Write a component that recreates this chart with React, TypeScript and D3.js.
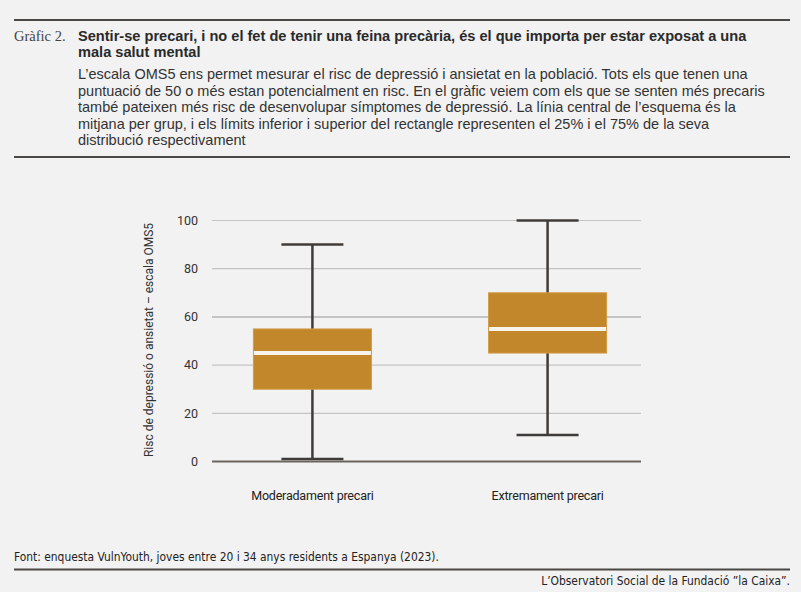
import React from 'react';
import * as d3 from 'd3';

// dades llegides del gràfic
const categories = ['Moderadament precari', 'Extremament precari'];
const minValues = [1, 11];
const q1Values = [30, 45];
const medianValues = [45, 55];
const q3Values = [55, 70];
const maxValues = [90, 100];
const yTicks = [0, 20, 40, 60, 80, 100];

const titleLines = [
  'Sentir-se precari, i no el fet de tenir una feina precària, és el que importa per estar exposat a una',
  'mala salut mental',
];
const bodyLines = [
  'L’escala OMS5 ens permet mesurar el risc de depressió i ansietat en la població. Tots els que tenen una',
  'puntuació de 50 o més estan potencialment en risc. En el gràfic veiem com els que se senten més precaris',
  'també pateixen més risc de desenvolupar símptomes de depressió. La línia central de l’esquema és la',
  'mitjana per grup, i els límits inferior i superior del rectangle representen el 25% i el 75% de la seva',
  'distribució respectivament',
];

const W = 801;
const H = 592;
const sans = 'Roboto, "Liberation Sans", sans-serif';
const arial = '"Liberation Sans", Arial, sans-serif';
const narrow = '"Liberation Sans Narrow", "DejaVu Sans Condensed", Roboto, sans-serif';

export default function App() {
  const y = d3.scaleLinear().domain([0, 100]).range([461.5, 220.5]);
  const x = d3.scalePoint<string>().domain(categories).range([216, 644]).padding(0.41);
  const boxW = 118;
  const capW = 62;

  return (
    <div style={{ position: 'fixed', left: 0, top: 0, width: W, height: H, background: '#f2f2f2' }}>
      <svg width={W} height={H} style={{ display: 'block' }}>
        <rect width={W} height={H} fill="#f2f2f2" />
        {/* capçalera */}
        <line x1={14} x2={790} y1={20} y2={20} stroke="#4a4744" strokeWidth={2} />
        <text x={14} y={41} fontFamily='"Liberation Serif", "DejaVu Serif", serif' fontSize={14.5} fill="#444">
          Gràfic 2.
        </text>
        {titleLines.map((t, i) => (
          <text key={i} x={78} y={41 + i * 15.5} fontFamily={arial} fontWeight={700} fontSize={14.6}
            fill="#2a2a2a">
            {t}
          </text>
        ))}
        {bodyLines.map((t, i) => (
          <text key={i} x={78} y={79 + i * 16.5} fontFamily={arial} fontSize={14.5} fill="#333">
            {t}
          </text>
        ))}
        <line x1={14} x2={790} y1={157} y2={157} stroke="#4a4744" strokeWidth={2} />

        {/* graella */}
        {yTicks.map(t => (
          <g key={t}>
            {t > 0 && (
              <line x1={212} x2={641} y1={y(t)} y2={y(t)} stroke="#c4c4c4"
                strokeWidth={t === 60 ? 2 : 1.2} />
            )}
            <text x={198} y={y(t)} dy="0.35em" textAnchor="end" fontFamily={sans} fontSize={12.5} fill="#333">
              {t}
            </text>
          </g>
        ))}
        <text transform={`translate(149,340) rotate(-90)`} textAnchor="middle"
          fontFamily={sans} fontSize={12} fill="#333" dy="0.35em">
          Risc de depressió o ansietat – escala OMS5
        </text>

        {/* caixes */}
        {categories.map((c, i) => {
          const cx = x(c) as number;
          return (
            <g key={c}>
              <line x1={cx} x2={cx} y1={y(minValues[i])} y2={y(maxValues[i])} stroke="#3f3b38" strokeWidth={2.5} />
              <line x1={cx - capW / 2} x2={cx + capW / 2} y1={y(maxValues[i])} y2={y(maxValues[i])}
                stroke="#3f3b38" strokeWidth={2.5} />
              <line x1={cx - capW / 2} x2={cx + capW / 2} y1={y(minValues[i])} y2={y(minValues[i])}
                stroke="#3f3b38" strokeWidth={2.5} />
              <rect x={cx - boxW / 2} width={boxW} y={y(q3Values[i])} height={y(q1Values[i]) - y(q3Values[i])}
                fill="#c1872a" stroke="#d29a45" strokeWidth={1} />
              <line x1={cx - boxW / 2 + 0.5} x2={cx + boxW / 2 - 0.5} y1={y(medianValues[i])} y2={y(medianValues[i])}
                stroke="#f7f4ee" strokeWidth={4} />
              <text x={cx} y={500} textAnchor="middle" fontFamily={sans} fontSize={12.5} fill="#222"
                letterSpacing={-0.2}>
                {c}
              </text>
            </g>
          );
        })}
        <line x1={212} x2={641} y1={y(0)} y2={y(0)} stroke="#6b6560" strokeWidth={2} />

        {/* peu */}
        <text x={14} y={561} fontFamily={narrow} fontSize={11.9} fill="#222">
          Font: enquesta VulnYouth, joves entre 20 i 34 anys residents a Espanya (2023).
        </text>
        <line x1={14} x2={790} y1={569.5} y2={569.5} stroke="#4a4744" strokeWidth={2} />
        <text x={790} y={585} textAnchor="end" fontFamily={narrow} fontSize={11.9} fill="#222">
          L’Observatori Social de la Fundació ”la Caixa”.
        </text>
      </svg>
    </div>
  );
}
